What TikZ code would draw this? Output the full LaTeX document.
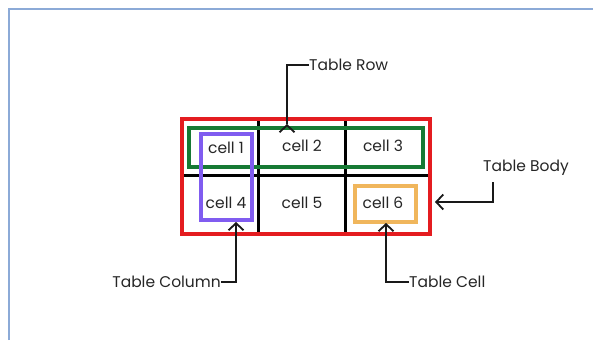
\documentclass[tikz,border=0pt]{standalone}
\usepackage{fontspec}
\setmainfont{Poppins}
\usetikzlibrary{arrows.meta}
\definecolor{frameblue}{RGB}{140,170,215}
\definecolor{tred}{RGB}{228,28,32}
\definecolor{tgreen}{RGB}{22,122,52}
\definecolor{tpurple}{RGB}{128,92,240}
\definecolor{torange}{RGB}{240,182,92}
\tikzset{
  cellt/.style={font=\fontsize{15.5}{18}\selectfont, inner sep=0pt, text=black!85},
  labelt/.style={font=\fontsize{15.5}{18}\selectfont, inner sep=0pt, text=black!85},
  conn/.style={draw=black!90, line width=2pt, -{Straight Barb[length=7pt,width=15pt,line width=1.8pt]}},
  grid/.style={draw=black, line width=3pt},
}
\begin{document}
\begin{tikzpicture}[x=1pt,y=-1pt]
\useasboundingbox (0,0) rectangle (593,340);
\fill[white] (0,0) rectangle (593,340);
\draw[frameblue, line width=1.6pt] (9,340) -- (9,9) -- (593,9);
% grid
\draw[grid] (258,119) -- (258,234);
\draw[grid] (345,119) -- (345,234);
\draw[grid] (182,175) -- (430,175);
% table body
\draw[tred, line width=4.5pt] (182,119) rectangle (430,234);
% row
\draw[tgreen, line width=4pt] (189,128) rectangle (423,167);
% column
\draw[tpurple, line width=4pt] (201,134) rectangle (252,220);
% cell
\draw[torange, line width=4pt] (355,186) rectangle (416,222);
% cell texts
\node[cellt] (c1) at (226,148) {cell 1};
\node[cellt] (c2) at (302,146) {cell 2};
\node[cellt] (c3) at (383,146) {cell 3};
\node[cellt] (c4) at (226,203) {cell 4};
\node[cellt] (c5) at (302,203) {cell 5};
\node[cellt] (c6) at (383,203) {cell 6};
% labels
\node[labelt, anchor=west] (lrow) at (309,65) {Table Row};
\node[labelt, anchor=west] (lbody) at (483,168) {Table Body};
\node[labelt, anchor=east] (lcol) at (221,282) {Table Column};
\node[labelt, anchor=west] (lcell) at (409,282) {Table Cell};
% targets
\coordinate (trow) at (287,124);
\coordinate (tbody) at (435,202);
\coordinate (tcol) at (236,222);
\coordinate (tcell) at (386,223);
\coordinate (bstart) at (493,182);
% connectors
\draw[conn] (lrow.west) -- ++(-22,0) |- (trow);
\draw[conn] (bstart) |- (tbody);
\draw[conn] (lcol.east) -| (tcol);
\draw[conn] (lcell.west) -| (tcell);
\end{tikzpicture}
\end{document}
